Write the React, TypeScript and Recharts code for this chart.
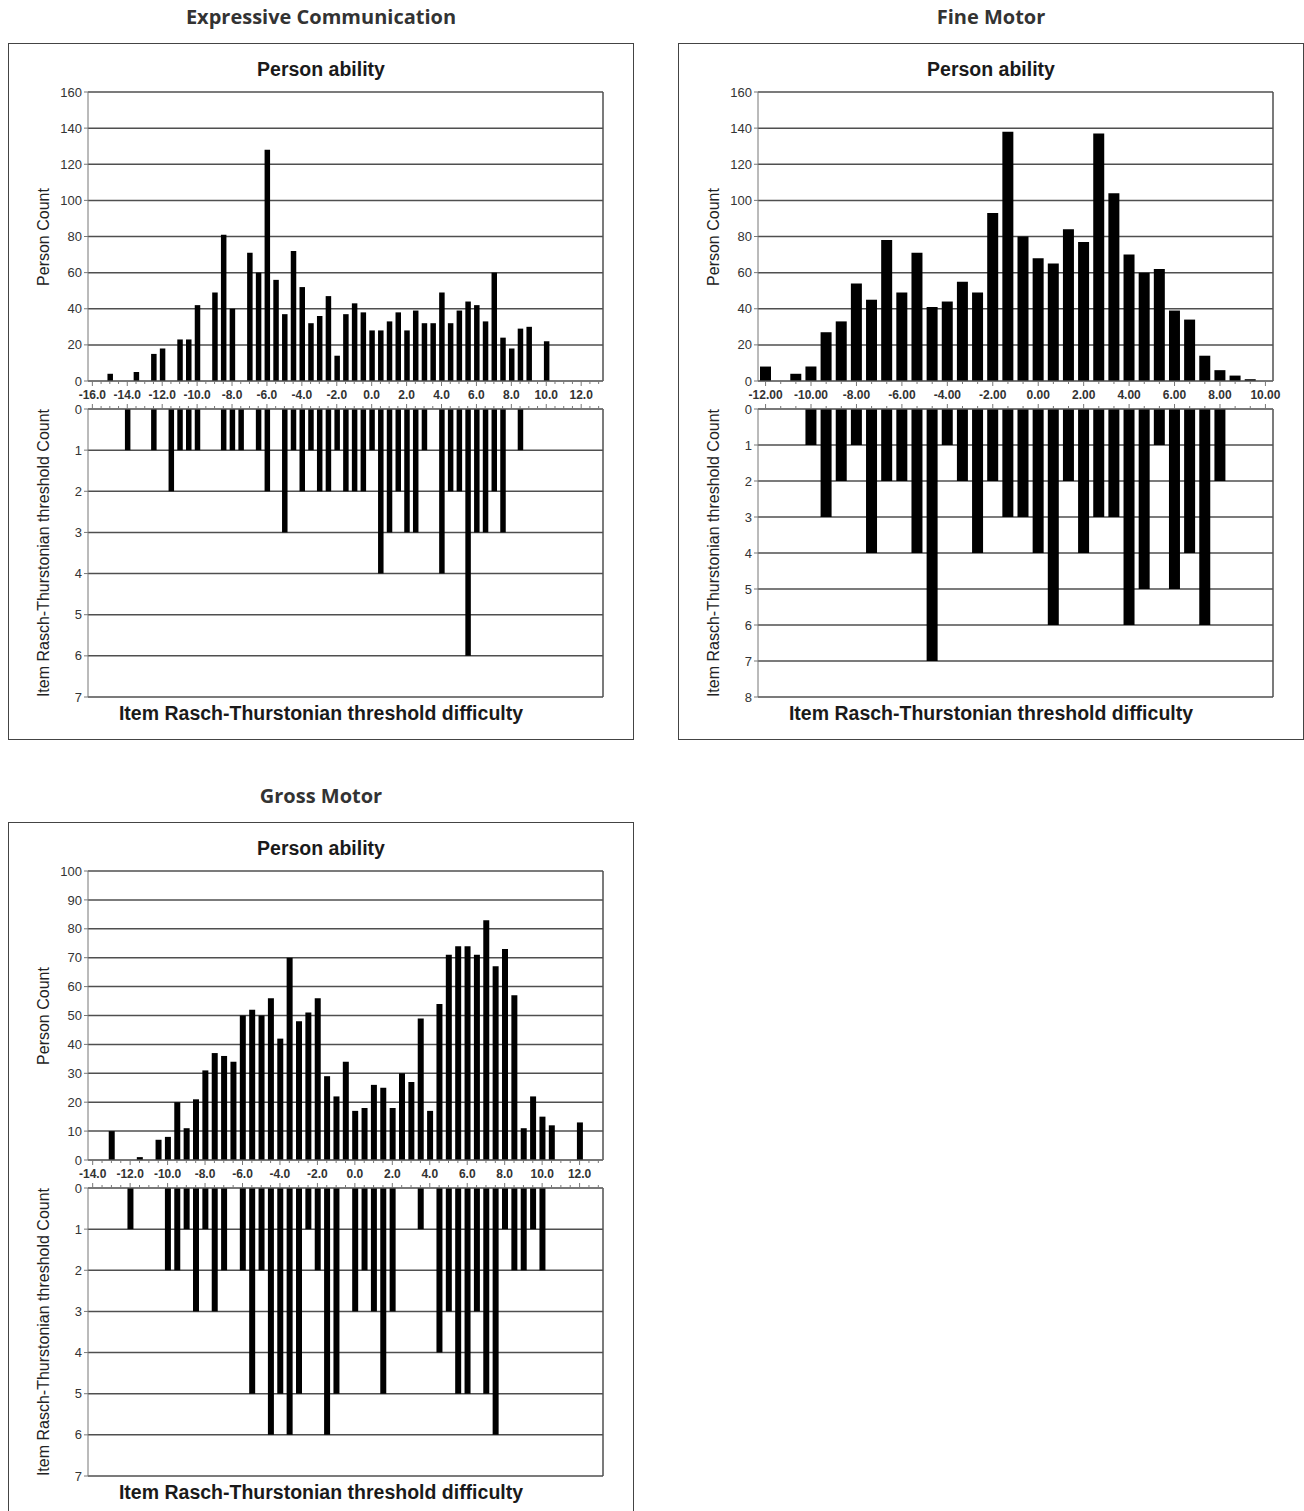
import { BarChart, Bar, XAxis, YAxis, CartesianGrid } from "recharts";

// Expressive Communication: bins of 0.5 logits
const ecBins = [
  -16, -15.5, -15, -14.5, -14, -13.5, -13, -12.5, -12, -11.5,
  -11, -10.5, -10, -9.5, -9, -8.5, -8, -7.5, -7, -6.5,
  -6, -5.5, -5, -4.5, -4, -3.5, -3, -2.5, -2, -1.5,
  -1, -0.5, 0, 0.5, 1, 1.5, 2, 2.5, 3, 3.5,
  4, 4.5, 5, 5.5, 6, 6.5, 7, 7.5, 8, 8.5,
  9, 9.5, 10, 10.5, 11, 11.5, 12, 12.5, 13,
];
const ecPersons = [
  0, 0, 4, 0, 0, 5, 0, 15, 18, 0,
  23, 23, 42, 0, 49, 81, 40, 0, 71, 60,
  128, 56, 37, 72, 52, 32, 36, 47, 14, 37,
  43, 38, 28, 28, 33, 38, 28, 39, 32, 32,
  49, 32, 39, 44, 42, 33, 60, 24, 18, 29,
  30, 0, 22, 0, 0, 0, 0, 0, 0,
];
const ecThresholds = [
  0, 0, 0, 0, 1, 0, 0, 1, 0, 2,
  1, 1, 1, 0, 0, 1, 1, 1, 0, 1,
  2, 0, 3, 1, 2, 1, 2, 2, 1, 2,
  2, 2, 1, 4, 3, 2, 3, 3, 1, 0,
  4, 2, 2, 6, 3, 3, 2, 3, 0, 1,
  0, 0, 0, 0, 0, 0, 0, 0, 0,
];

// Fine Motor: bins of 2/3 logit
const fmBins = [
  -12, -11.33, -10.67, -10, -9.33, -8.67, -8, -7.33, -6.67, -6,
  -5.33, -4.67, -4, -3.33, -2.67, -2, -1.33, -0.67, 0, 0.67,
  1.33, 2, 2.67, 3.33, 4, 4.67, 5.33, 6, 6.67, 7.33,
  8, 8.67, 9.33, 10,
];
const fmPersons = [
  8, 0, 4, 8, 27, 33, 54, 45, 78, 49,
  71, 41, 44, 55, 49, 93, 138, 80, 68, 65,
  84, 77, 137, 104, 70, 60, 62, 39, 34, 14,
  6, 3, 1, 0,
];
const fmThresholds = [
  0, 0, 0, 1, 3, 2, 1, 4, 2, 2,
  4, 7, 1, 2, 4, 2, 3, 3, 4, 6,
  2, 4, 3, 3, 6, 5, 1, 5, 4, 6,
  2, 0, 0, 0,
];

// Gross Motor: bins of 0.5 logits
const gmBins = [
  -14, -13.5, -13, -12.5, -12, -11.5, -11, -10.5, -10, -9.5,
  -9, -8.5, -8, -7.5, -7, -6.5, -6, -5.5, -5, -4.5,
  -4, -3.5, -3, -2.5, -2, -1.5, -1, -0.5, 0, 0.5,
  1, 1.5, 2, 2.5, 3, 3.5, 4, 4.5, 5, 5.5,
  6, 6.5, 7, 7.5, 8, 8.5, 9, 9.5, 10, 10.5,
  11, 11.5, 12, 12.5, 13,
];
const gmPersons = [
  0, 0, 10, 0, 0, 1, 0, 7, 8, 20,
  11, 21, 31, 37, 36, 34, 50, 52, 50, 56,
  42, 70, 48, 51, 56, 29, 22, 34, 17, 18,
  26, 25, 18, 30, 27, 49, 17, 54, 71, 74,
  74, 71, 83, 67, 73, 57, 11, 22, 15, 12,
  0, 0, 13, 0, 0,
];
const gmThresholds = [
  0, 0, 0, 0, 1, 0, 0, 0, 2, 2,
  1, 3, 1, 3, 2, 0, 2, 5, 2, 6,
  5, 6, 5, 1, 2, 6, 5, 0, 3, 2,
  3, 5, 3, 0, 0, 1, 0, 4, 3, 5,
  5, 3, 5, 6, 1, 2, 2, 1, 2, 0,
  0, 0, 0, 0, 0,
];

const personTicks160 = [0, 20, 40, 60, 80, 100, 120, 140, 160];
const personTicks100 = [0, 10, 20, 30, 40, 50, 60, 70, 80, 90, 100];
const countTicks7 = [0, 1, 2, 3, 4, 5, 6, 7];
const countTicks8 = [0, 1, 2, 3, 4, 5, 6, 7, 8];

const chartFont = '"Liberation Sans", Arial, sans-serif';
const gridColor = "#4f4f4f";
const axisColor = "#777";

const borderRight = ({ offset }: any) => [offset.left + offset.width];

function makeXTick(every: number, decimals: number, withText: boolean, up: boolean) {
  return (props: any) => {
    const { x, y, payload, index } = props;
    const major = index % every === 0;
    const len = major ? 5 : 3;
    return (
      <g>
        <line x1={x} x2={x} y1={y} y2={up ? y - len : y + len} stroke={axisColor} />
        {withText && major ? (
          <text
            x={x}
            y={y + 14}
            textAnchor="middle"
            dominantBaseline="central"
            fontSize={12}
            fontWeight="bold"
            fill="#333"
          >
            {Number(payload.value).toFixed(decimals)}
          </text>
        ) : null}
      </g>
    );
  };
}

type PanelProps = {
  left: number;
  top: number;
  title: string;
  bins: number[];
  persons: number[];
  thresholds: number[];
  personTicks: number[];
  countTicks: number[];
  every: number;
  decimals: number;
  barSize: number;
};

function Panel({ left, top, title, bins, persons, thresholds, personTicks, countTicks, every, decimals, barSize }: PanelProps) {
  const data = bins.map((b, i) => ({ bin: b, persons: persons[i], thresholds: thresholds[i] }));
  const W = 626;
  const inner = W - 2;
  return (
    <>
      <div
        style={{
          position: "absolute",
          left,
          top: top - 40,
          width: W,
          textAlign: "center",
          fontFamily: '"Open Sans", sans-serif',
          fontWeight: 700,
          fontSize: 20,
          lineHeight: "28px",
          color: "#333",
        }}
      >
        {title}
      </div>
      <div
        style={{
          position: "absolute",
          left,
          top,
          width: W,
          height: 697,
          border: "1px solid #444",
          boxSizing: "border-box",
          background: "#fff",
        }}
      >
        <div
          style={{
            position: "absolute",
            left: 0,
            top: 13,
            width: inner,
            textAlign: "center",
            fontFamily: chartFont,
            fontWeight: 700,
            fontSize: 19.5,
            lineHeight: "24px",
            color: "#1a1a1a",
          }}
        >
          Person ability
        </div>

        <div style={{ position: "absolute", left: 0, top: 0 }}>
          <BarChart
            width={inner}
            height={367}
            data={data}
            margin={{ top: 48, right: 30, bottom: 0, left: 0 }}
            style={{ fontFamily: chartFont }}
          >
            <CartesianGrid
              stroke={gridColor}
              strokeWidth={1.5}
              verticalCoordinatesGenerator={borderRight}
            />
            <XAxis
              dataKey="bin"
              type="category"
              interval={0}
              height={30}
              tickSize={0}
              tickMargin={0}
              tickLine={false}
              axisLine={{ stroke: axisColor }}
              tick={makeXTick(every, decimals, true, false)}
            />
            <YAxis
              width={79}
              domain={[0, personTicks[personTicks.length - 1]]}
              ticks={personTicks}
              interval={0}
              tickSize={4}
              tickLine={{ stroke: axisColor }}
              axisLine={{ stroke: axisColor }}
              tick={{ fontSize: 13, fill: "#333" }}
            />
            <Bar dataKey="persons" fill="#000" barSize={barSize} isAnimationActive={false} />
          </BarChart>
        </div>

        <div style={{ position: "absolute", left: 0, top: 345 }}>
          <BarChart
            width={inner}
            height={318}
            data={data}
            margin={{ top: 0, right: 30, bottom: 10, left: 0 }}
            style={{ fontFamily: chartFont }}
          >
            <CartesianGrid
              stroke={gridColor}
              strokeWidth={1.5}
              verticalCoordinatesGenerator={borderRight}
            />
            <XAxis
              dataKey="bin"
              type="category"
              orientation="top"
              interval={0}
              height={20}
              tickSize={0}
              tickMargin={0}
              tickLine={false}
              axisLine={{ stroke: axisColor }}
              tick={makeXTick(every, decimals, false, true)}
            />
            <YAxis
              width={79}
              reversed
              domain={[0, countTicks[countTicks.length - 1]]}
              ticks={countTicks}
              interval={0}
              tickSize={4}
              tickLine={{ stroke: axisColor }}
              axisLine={{ stroke: axisColor }}
              tick={{ fontSize: 13, fill: "#333" }}
            />
            <Bar dataKey="thresholds" fill="#000" barSize={barSize} isAnimationActive={false} />
          </BarChart>
        </div>

        <div
          style={{
            position: "absolute",
            left: 35,
            top: 193,
            transform: "translate(-50%, -50%) rotate(-90deg)",
            whiteSpace: "nowrap",
            fontFamily: chartFont,
            fontSize: 16,
            color: "#222",
          }}
        >
          Person Count
        </div>
        <div
          style={{
            position: "absolute",
            left: 35,
            top: 509,
            transform: "translate(-50%, -50%) rotate(-90deg)",
            whiteSpace: "nowrap",
            fontFamily: chartFont,
            fontSize: 16,
            color: "#222",
          }}
        >
          Item Rasch-Thurstonian threshold Count
        </div>

        <div
          style={{
            position: "absolute",
            left: 0,
            top: 657,
            width: inner,
            textAlign: "center",
            fontFamily: chartFont,
            fontWeight: 700,
            fontSize: 19.5,
            lineHeight: "24px",
            color: "#1a1a1a",
          }}
        >
          Item Rasch-Thurstonian threshold difficulty
        </div>
      </div>
    </>
  );
}

export default function App() {
  return (
    <div
      style={{
        position: "absolute",
        left: 0,
        top: 0,
        width: 1304,
        height: 1511,
        overflow: "hidden",
        background: "#fff",
      }}
    >
      <Panel
        left={8}
        top={43}
        title="Expressive Communication"
        bins={ecBins}
        persons={ecPersons}
        thresholds={ecThresholds}
        personTicks={personTicks160}
        countTicks={countTicks7}
        every={4}
        decimals={1}
        barSize={5.5}
      />
      <Panel
        left={678}
        top={43}
        title="Fine Motor"
        bins={fmBins}
        persons={fmPersons}
        thresholds={fmThresholds}
        personTicks={personTicks160}
        countTicks={countTicks8}
        every={3}
        decimals={2}
        barSize={11}
      />
      <Panel
        left={8}
        top={822}
        title="Gross Motor"
        bins={gmBins}
        persons={gmPersons}
        thresholds={gmThresholds}
        personTicks={personTicks100}
        countTicks={countTicks7}
        every={4}
        decimals={1}
        barSize={6}
      />
    </div>
  );
}
